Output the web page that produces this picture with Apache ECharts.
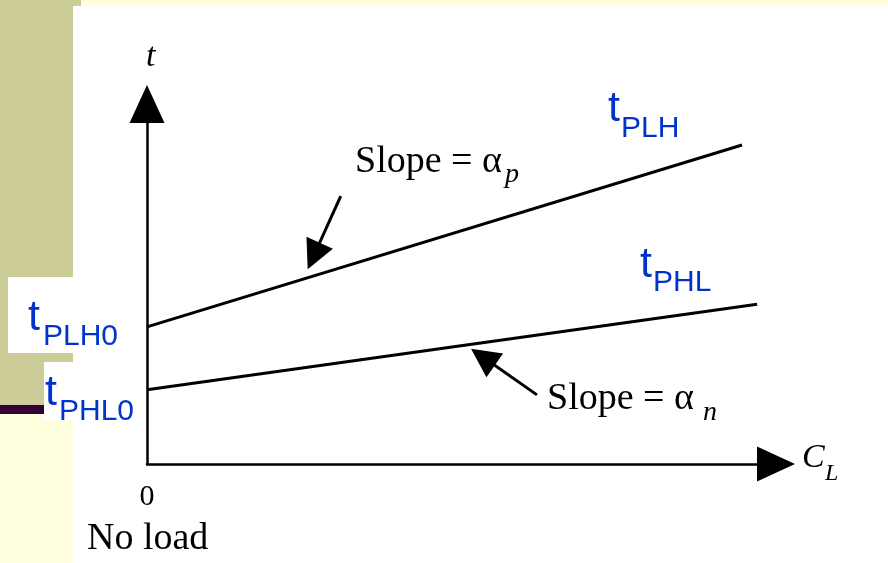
<!DOCTYPE html>
<html>
<head>
<meta charset="utf-8">
<script src="https://cdn.jsdelivr.net/npm/echarts@6/dist/echarts.min.js"></script>
<style>
  html, body { margin: 0; padding: 0; background: #fff; }
  #chart { width: 888px; height: 563px; }
</style>
</head>
<body>
<div id="chart"></div>
<script>
// 数据 (axis units 0..100)
const plhLine = [[0, 38.1], [94.6, 88.6]];
const phlLine = [[0, 20.6], [97.0, 44.4]];
// slope pointers: [from, to]
const arrowP = [[30.8, 74.4], [26.5, 57.8]];
const arrowN = [[62.0, 19.2], [53.4, 29.7]];
const xTicks = ['0'];

const sans = "'Liberation Sans', Arial, sans-serif";
const serif = "'Liberation Serif', 'Times New Roman', serif";
const blue = '#0033cc';

// text helper
function txt(x, y, text, font, color, align) {
  return {
    type: 'text',
    z: 100,
    style: {
      x: x, y: y, text: text,
      font: font,
      fill: color,
      align: align || 'left',
      verticalAlign: 'middle'
    }
  };
}
function box(x, y, w, h, color) {
  return { type: 'rect', z: -100, shape: { x: x, y: y, width: w, height: h }, style: { fill: color } };
}

const option = {
  backgroundColor: '#fff',
  animation: false,
  grid: { left: 147, right: 112, top: 104, bottom: 99, containLabel: false, outerBoundsMode: 'none' },
  xAxis: {
    type: 'value', min: 0, max: 100,
    axisLine: { show: true, symbol: ['none', 'triangle'], symbolSize: [35, 38], lineStyle: { color: '#000', width: 2.5 } },
    axisTick: { show: false }, axisLabel: { show: false }, splitLine: { show: false }
  },
  yAxis: {
    type: 'value', min: 0, max: 100,
    axisLine: { show: true, symbol: ['none', 'triangle'], symbolSize: [35, 38], lineStyle: { color: '#000', width: 2.5 } },
    axisTick: { show: false }, axisLabel: { show: false }, splitLine: { show: false }
  },
  series: [
    {
      name: 'tPLH', type: 'line', data: plhLine, symbol: 'none',
      lineStyle: { color: '#000', width: 3 }
    },
    {
      name: 'tPHL', type: 'line', data: phlLine, symbol: 'none',
      lineStyle: { color: '#000', width: 3 }
    },
    {
      type: 'lines', coordinateSystem: 'cartesian2d',
      symbol: ['none', 'triangle'], symbolSize: 29,
      lineStyle: { color: '#000', width: 3, opacity: 1, curveness: 0 },
      data: [{ coords: arrowP }, { coords: arrowN }]
    }
  ],
  graphic: [
    // slide background
    box(0, 0, 73, 405, '#cccc99'),
    box(73, 0, 8, 6, '#cccc99'),
    box(81, 0, 807, 6, '#ffffe0'),
    box(0, 405, 73, 9, '#330033'),
    box(0, 414, 73, 149, '#ffffe0'),
    box(8, 277, 122, 76, '#ffffff'),
    box(44, 362, 96, 58, '#ffffff'),
    // blue labels
    txt(28, 318, 't', '43px ' + sans, blue),
    txt(43, 337, 'PLH0', '30px ' + sans, blue),
    txt(45, 393, 't', '43px ' + sans, blue),
    txt(59, 412, 'PHL0', '30px ' + sans, blue),
    txt(608, 109, 't', '43px ' + sans, blue),
    txt(621, 129, 'PLH', '30px ' + sans, blue),
    txt(640, 265, 't', '43px ' + sans, blue),
    txt(653, 283, 'PHL', '30px ' + sans, blue),
    // serif labels
    txt(355, 162, 'Slope = \u03b1', '38px ' + serif, '#000'),
    txt(505, 175, 'p', 'italic 28px ' + serif, '#000'),
    txt(547, 399, 'Slope = \u03b1', '38px ' + serif, '#000'),
    txt(703, 413, 'n', 'italic 28px ' + serif, '#000'),
    txt(146, 57, 't', 'italic 34px ' + serif, '#000'),
    txt(802, 458, 'C', 'italic 34px ' + serif, '#000'),
    txt(825, 474, 'L', 'italic 24px ' + serif, '#000'),
    txt(147, 497, xTicks[0], '30px ' + serif, '#000', 'center'),
    txt(87, 539, 'No load', '38px ' + serif, '#000')
  ]
};

const chart = echarts.init(document.getElementById('chart'), null, { renderer: 'canvas' });
chart.setOption(option);
</script>
</body>
</html>
